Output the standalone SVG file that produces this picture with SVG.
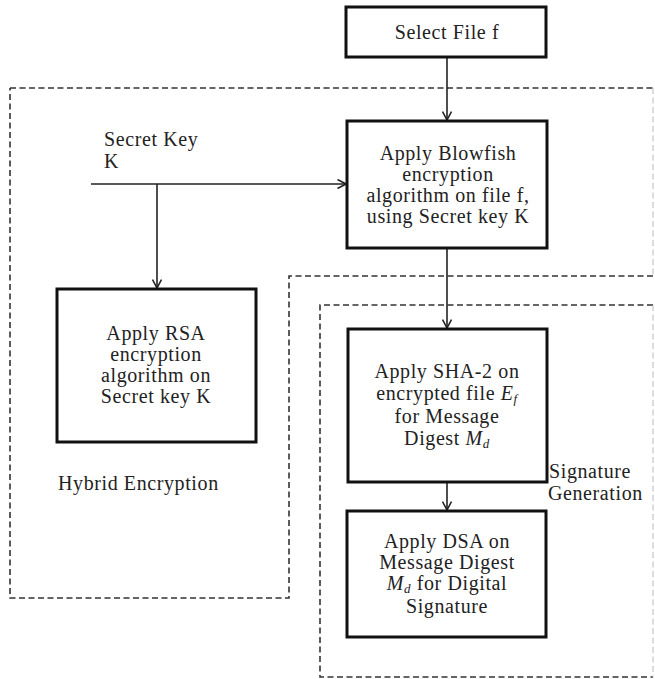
<svg xmlns="http://www.w3.org/2000/svg" width="655" height="679" viewBox="0 0 655 679">
<defs>
<style>
.box{fill:#fff;stroke:#111;stroke-width:3}
.t{font-family:"Liberation Serif","Times New Roman","DejaVu Serif",serif;font-size:20px;letter-spacing:0.6px;fill:#222}
.c{text-anchor:middle}
.m{font-style:italic}
.s{font-style:italic;font-size:13px}
.conn{stroke:#222;stroke-width:1.6;fill:none}
.dash{stroke:#333;stroke-width:1.6;fill:none;stroke-dasharray:6 3.5}
.faint{stroke:#bbb;stroke-width:1;fill:none;stroke-dasharray:6 3.5}
</style>
<marker id="arr" viewBox="0 0 10 10" refX="9.5" refY="5" markerWidth="10" markerHeight="10" markerUnits="userSpaceOnUse" orient="auto">
<path d="M1,0.5 L9.5,5 L1,9.5" fill="none" stroke="#222" stroke-width="1.6"/>
</marker>
</defs>
<rect width="655" height="679" fill="#fff"/>

<g id="regions">
<path class="dash" d="M10,88 H653 M653,276 H289 V598 H10 V88"/>
<path class="faint" d="M653,88 V276"/>
<path class="dash" d="M653,305 H320 V677 H653"/>
<path class="faint" d="M653,305 V677"/>
</g>

<g id="connectors">
<line class="conn" x1="447" y1="57" x2="447" y2="120" marker-end="url(#arr)"/>
<line class="conn" x1="91" y1="184" x2="346" y2="184" marker-end="url(#arr)"/>
<line class="conn" x1="157" y1="184" x2="157" y2="288" marker-end="url(#arr)"/>
<line class="conn" x1="447" y1="248" x2="447" y2="328" marker-end="url(#arr)"/>
<line class="conn" x1="447" y1="482" x2="447" y2="510" marker-end="url(#arr)"/>
</g>

<g id="select-file">
<rect class="box" x="346" y="7" width="200" height="50"/>
<text class="t c" x="447" y="39">Select File f</text>
</g>

<g id="blowfish">
<rect class="box" x="347" y="121" width="200" height="127"/>
<text class="t c" x="448" y="160">Apply Blowfish</text>
<text class="t c" x="448" y="181">encryption</text>
<text class="t c" x="448" y="202">algorithm on file f,</text>
<text class="t c" x="448" y="223">using Secret key K</text>
</g>

<g id="secret-key">
<text class="t" x="104" y="146">Secret Key</text>
<text class="t" x="104" y="168">K</text>
</g>

<g id="rsa">
<rect class="box" x="57" y="289" width="199" height="153"/>
<text class="t c" x="156" y="340">Apply RSA</text>
<text class="t c" x="156" y="361">encryption</text>
<text class="t c" x="156" y="382">algorithm on</text>
<text class="t c" x="156" y="403">Secret key K</text>
</g>

<g id="hybrid-label">
<text class="t" x="58" y="490">Hybrid Encryption</text>
</g>

<g id="sha2">
<rect class="box" x="348" y="329" width="199" height="153"/>
<text class="t c" x="447" y="378">Apply SHA-2 on</text>
<text class="t c" x="447" y="400">encrypted file <tspan class="m">E</tspan><tspan class="s" dy="3">f</tspan></text>
<text class="t c" x="447" y="423">for Message</text>
<text class="t c" x="447" y="445">Digest <tspan class="m">M</tspan><tspan class="s" dy="3">d</tspan></text>
</g>

<g id="signature-label">
<text class="t" x="549" y="478">Signature</text>
<text class="t" x="548" y="500">Generation</text>
</g>

<g id="dsa">
<rect class="box" x="347" y="511" width="199" height="126"/>
<text class="t c" x="447" y="548">Apply DSA on</text>
<text class="t c" x="447" y="569">Message Digest</text>
<text class="t c" x="447" y="590"><tspan class="m">M</tspan><tspan class="s" dy="3">d</tspan><tspan dy="-3"> for Digital</tspan></text>
<text class="t c" x="447" y="613">Signature</text>
</g>
</svg>
